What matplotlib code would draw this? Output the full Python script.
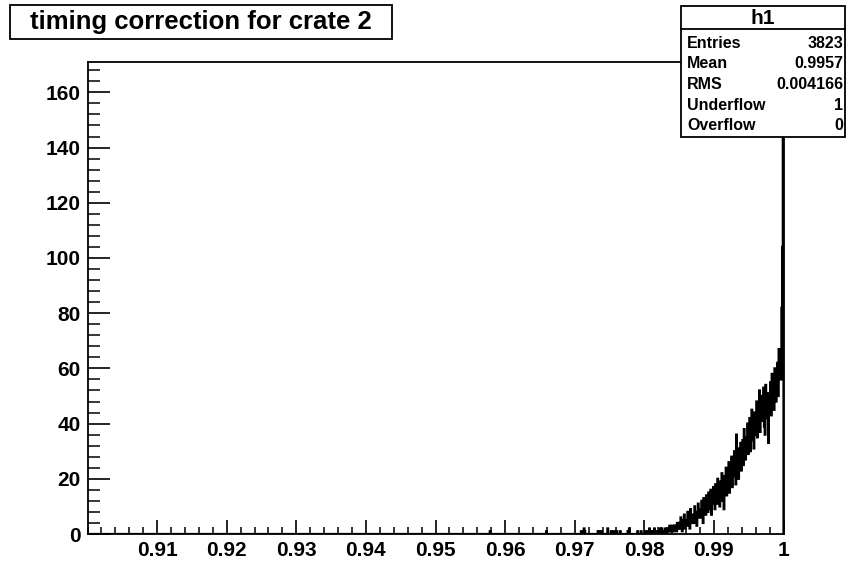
import numpy as np
import matplotlib
matplotlib.use("Agg")
import matplotlib.pyplot as plt
from matplotlib.patches import Rectangle
from matplotlib.ticker import MultipleLocator, FixedLocator

plt.rcParams['font.family'] = ['Liberation Sans', 'DejaVu Sans']
plt.rcParams['font.weight'] = 'bold'

# histogram h1: 1000 bins over [0.90, 1.00]
n_bins = 1000
x_lo, x_hi = 0.90, 1.00

# isolated low-side entries (bin low edge, count)
sparse_edges = [0.9578, 0.9659, 0.9709, 0.9713, 0.9714, 0.9733, 0.9735, 0.9738,
                0.9747, 0.9752, 0.9756, 0.9760, 0.9765, 0.9776, 0.9778, 0.9790, 0.9795]
sparse_counts = [1, 1, 1, 2, 1, 1, 1, 1, 2, 1, 1, 1, 1, 1, 2, 1, 1]

# contiguous counts from 0.980 up to 1.000, one row per 0.001
dense_start = 0.980
dense_counts = [
    0, 1, 0, 0, 1, 0, 0, 2, 0, 1,
    0, 1, 1, 0, 2, 0, 1, 0, 1, 1,
    1, 0, 2, 1, 0, 2, 1, 0, 1, 1,
    2, 1, 0, 2, 1, 2, 3, 1, 2, 1,
    3, 2, 1, 3, 2, 3, 1, 4, 2, 3,
    4, 2, 6, 3, 1, 5, 3, 7, 2, 4,
    5, 3, 8, 4, 6, 2, 9, 5, 4, 7,
    6, 4, 10, 5, 8, 3, 7, 11, 6, 8,
    9, 6, 12, 7, 4, 13, 8, 10, 7, 14,
    10, 8, 15, 9, 12, 16, 7, 13, 11, 17,
    12, 9, 18, 14, 11, 20, 13, 16, 10, 19,
    15, 22, 12, 18, 9, 21, 16, 24, 14, 20,
    19, 26, 15, 23, 18, 28, 17, 25, 21, 30,
    22, 18, 36, 24, 27, 20, 31, 26, 33, 23,
    28, 34, 25, 38, 30, 27, 35, 32, 40, 29,
    33, 42, 30, 37, 45, 34, 39, 31, 44, 36,
    38, 48, 35, 43, 40, 52, 37, 46, 41, 50,
    44, 53, 39, 36, 54, 47, 42, 51, 33, 48,
    46, 55, 43, 58, 49, 52, 45, 60, 50, 48,
    55, 62, 50, 67, 58, 64, 56, 82, 104, 163,
]

stat_names = ['Entries', 'Mean', 'RMS', 'Underflow', 'Overflow']
stat_values = ['3823', '0.9957', '0.004166', '1', '0']

x_ticks = [0.91, 0.92, 0.93, 0.94, 0.95, 0.96, 0.97, 0.98, 0.99, 1.00]
x_tick_labels = ['0.91', '0.92', '0.93', '0.94', '0.95', '0.96', '0.97', '0.98', '0.99', '1']
y_max = 171

# fill the bin array
edges = np.linspace(x_lo, x_hi, n_bins + 1)
counts = np.zeros(n_bins)
width = (x_hi - x_lo) / n_bins
for e, c in zip(sparse_edges, sparse_counts):
    counts[int(round((e - x_lo) / width))] += c
i0 = int(round((dense_start - x_lo) / width))
counts[i0:i0 + len(dense_counts)] = dense_counts

W, H = 847, 563
fig = plt.figure(figsize=(W / 100, H / 100), dpi=100)
ax = fig.add_axes([87.5 / W, 1 - 534 / H, (783.5 - 87.5) / W, (534 - 62) / H])

ax.stairs(counts, edges, color='black', linewidth=1.6)
ax.set_xlim(x_lo, x_hi)
ax.set_ylim(0, y_max)

for sp in ax.spines.values():
    sp.set_linewidth(1.3)

ax.xaxis.set_major_locator(FixedLocator(x_ticks))
ax.set_xticks(x_ticks)
ax.set_xticklabels(x_tick_labels)
ax.xaxis.set_minor_locator(MultipleLocator(0.002))
ax.yaxis.set_major_locator(MultipleLocator(20))
ax.yaxis.set_minor_locator(MultipleLocator(4))

ax.tick_params(axis='x', which='major', direction='in', length=10, width=1.2,
               labelsize=15, pad=5)
ax.tick_params(axis='x', which='minor', direction='in', length=5, width=1.1)
ax.tick_params(axis='y', which='major', direction='in', length=16, width=1.2,
               labelsize=15, pad=5)
ax.tick_params(axis='y', which='minor', direction='in', length=8.5, width=1.1)
for lab in ax.get_xticklabels() + ax.get_yticklabels():
    lab.set_fontweight('bold')

# title box
fig.add_artist(Rectangle((10 / W, 1 - 39 / H), 382 / W, 34 / H,
                         transform=fig.transFigure, facecolor='white',
                         edgecolor='black', linewidth=1.3, zorder=10))
fig.text(201 / W, 1 - 22 / H, 'timing correction for crate 2', fontsize=18.5,
         fontweight='bold', ha='center', va='center', zorder=11)

# statistics box
bx0, bx1, by0, by1 = 681, 845, 6, 137
fig.add_artist(Rectangle((bx0 / W, 1 - by1 / H), (bx1 - bx0) / W, (by1 - by0) / H,
                         transform=fig.transFigure, facecolor='white',
                         edgecolor='black', linewidth=1.3, zorder=10))
fig.add_artist(plt.Line2D([bx0 / W, bx1 / W], [1 - 29 / H, 1 - 29 / H],
                          transform=fig.transFigure, color='black',
                          linewidth=1.3, zorder=11))
fig.text((bx0 + bx1) / 2 / W, 1 - 18 / H, 'h1', fontsize=15,
         fontweight='bold', ha='center', va='center', zorder=11)
row_y = [43, 63.5, 84.5, 105.5, 126]
for name, val, ry in zip(stat_names, stat_values, row_y):
    fig.text(687 / W, 1 - ry / H, name, fontsize=11.5, fontweight='bold',
             ha='left', va='center', zorder=11)
    fig.text(843 / W, 1 - ry / H, val, fontsize=11.5, fontweight='bold',
             ha='right', va='center', zorder=11)

fig.savefig('out.png', dpi=100, facecolor='white')
